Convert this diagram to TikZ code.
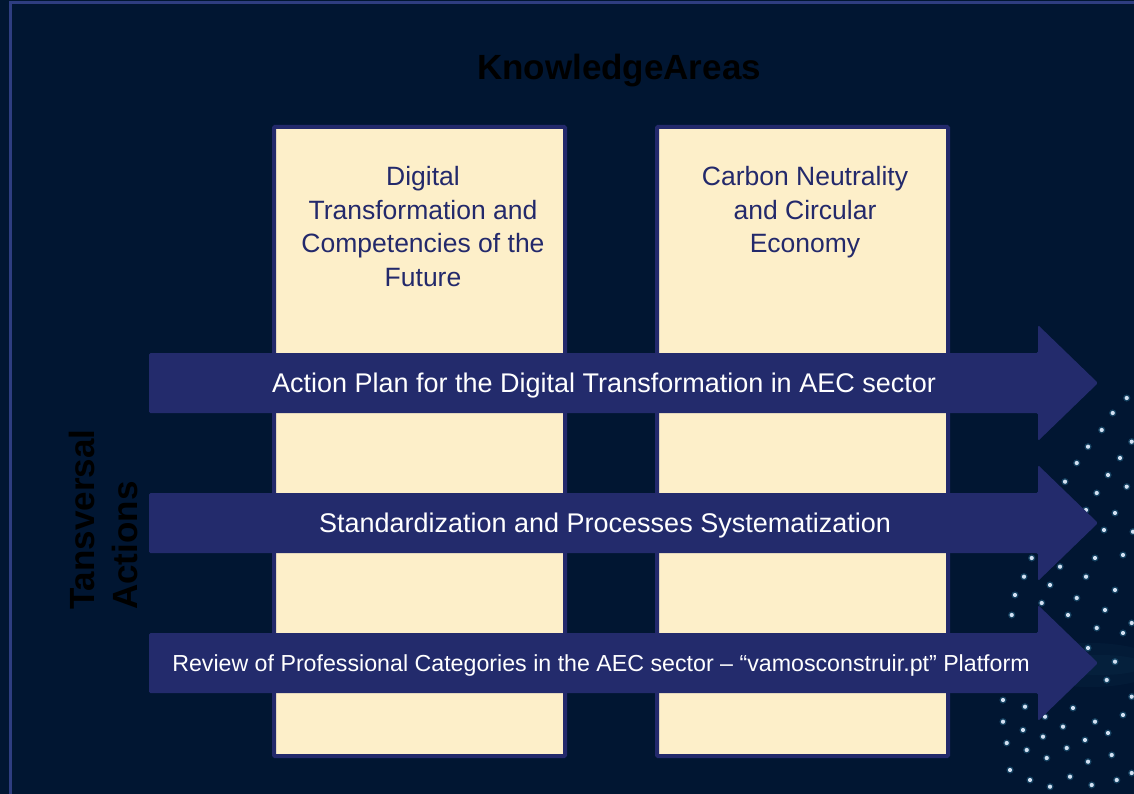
\documentclass[tikz,border=0pt]{standalone}
\usepackage{fontspec}
\setmainfont{Liberation Sans}
\definecolor{bgnavy}{HTML}{011632}
\definecolor{framecol}{HTML}{2E3D80}
\definecolor{cream}{HTML}{FDEFC9}
\definecolor{boxnavy}{HTML}{23296B}
\definecolor{arrowcol}{HTML}{232B6C}
\definecolor{dotcol}{HTML}{D2E0F2}
\definecolor{glowcol}{HTML}{3FA0C8}
\begin{document}
\begin{tikzpicture}[x=1pt,y=-1pt,
  kbox/.style={draw=boxnavy, line width=4pt, fill=cream, rounded corners=1pt,
    minimum width=291pt, minimum height=629pt, inner sep=0pt, outer sep=0pt},
  ktext/.style={text=boxnavy, align=center, inner sep=0pt,
    font=\fontsize{26.5}{33.7}\selectfont},
  arrowshape/.style={fill=arrowcol, rounded corners=1.5pt},
  arrowtext/.style={text=white, inner sep=0pt, anchor=base,
    font=\fontsize{27}{32}\selectfont},
  titletext/.style={text=black, inner sep=0pt, anchor=base,
    font=\bfseries\fontsize{35}{42}\selectfont},
  sidetext/.style={text=black, inner sep=0pt, align=left, rotate=90,
    anchor=north west, font=\bfseries\fontsize{35}{43}\selectfont},
  dotstyle/.style={fill=dotcol},
  glowstyle/.style={fill=glowcol, opacity=0.3}
]
\useasboundingbox (0,0) rectangle (1134,794);
\fill[bgnavy] (0,0) rectangle (1134,794);
% faint glow
\fill[glowcol, opacity=0.04] (1090,665) ellipse (70pt and 22pt);
\fill[glowcol, opacity=0.04] (1100,665) ellipse (45pt and 10pt);
% frame
\draw[framecol, line width=3.2pt] (10.5,794) -- (10.5,2.5) -- (1134,2.5);
% dots
\foreach \dx/\dy in {1126.7/398,1112.7/413,1131.7/441.7,1101.7/430,1088/446.7,1120/458,
  1076.7/463,1108/475,1065/481.7,1096.7/493,1126.7/486.7,1086/510,1115/513,1133/531.7,
  1104/530,1031.7/558,1060/566.7,1095/558,1123/555,1024/576.7,1050/585,1086/576.7,
  1115/590,1015/595,1041.7/603,1076.7/598,1105/610,1131.7/623,1011.7/615,1068/615,
  1096.7/628,1123/633,1088/648,1115/661.7,1076.7/670,1106.7/680,1131.7/696.7,1003/700,
  1025/706.7,1045/716.7,1073/708,1095/721.7,1123/715,1003/721.7,1023/730,1043/736.7,
  1063/726.7,1085/740,1108/733,1006.7/743,1026.7/750,1046.7/758,1066.7/748,1088/761.7,
  1111.7/755,1131.7/773,1010/770,1030/780,1050/786.7,1070/776.7,1091.7/785,1116.7/780}{
  \fill[glowstyle] (\dx,\dy) circle (3.6pt);
  \fill[dotstyle] (\dx,\dy) circle (2.1pt);
}
% knowledge area boxes
\node[kbox] (box1) at (419.5,441.5) {};
\node[kbox] (box2) at (802.5,441.5) {};
\node[ktext, anchor=north] (txt1) at (423,166) {Digital\\Transformation and\\Competencies of the\\Future};
\node[ktext, anchor=north] (txt2) at (805,166) {Carbon Neutrality\\and Circular\\Economy};
% title
\node[titletext] (title) at (619,80) {KnowledgeAreas};
% side label
\node[sidetext] (side) at (69,610) {Tansversal\\Actions};
% arrows
\foreach \s in {0,140,280}{
  \fill[arrowshape] (149,353+\s) -- (1038,353+\s) -- (1038,325+\s) -- (1098,383+\s)
    -- (1038,441+\s) -- (1038,413+\s) -- (149,413+\s) -- cycle;
}
\node[arrowtext] (a1) at (604,392) {Action Plan for the Digital Transformation in AEC sector};
\node[arrowtext] (a2) at (605,532) {Standardization and Processes Systematization};
\node[arrowtext, font=\fontsize{23.2}{28}\selectfont] (a3) at (601,671) {Review of Professional Categories in the AEC sector – “vamosconstruir.pt” Platform};
\end{tikzpicture}
\end{document}
